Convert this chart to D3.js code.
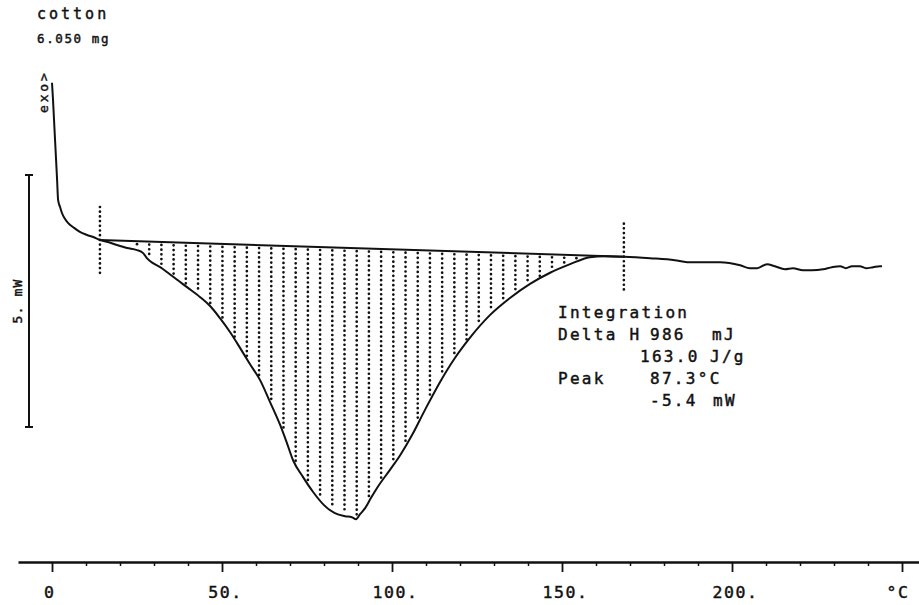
<!DOCTYPE html>
<html>
<head>
<meta charset="utf-8">
<script src="https://cdn.jsdelivr.net/npm/d3@7"></script>
<style>
body { margin: 0; background: #fff; }
svg text { font-family: "DejaVu Sans Mono", monospace; fill: #111; stroke: #111; stroke-width: 0.45px; }
</style>
</head>
<body>
<svg id="chart" width="919" height="605"></svg>
<script>
var width = 919;
var height = 605;

// trace: temperature in °C, heat flow in mW (zero at the left integration limit)
var temps = [0, 0.3, 0.6, 0.9, 1.2, 1.5, 1.8, 2.4, 2.9, 3.8, 4.7, 6.5, 8.2, 10.3, 12.1, 14.1,
  16.5, 19.1, 22.1, 25.0, 26.8, 27.9, 29.7, 31.8, 34.1, 36.8, 40.0, 43.5, 46.5, 49.4, 52.4,
  55.3, 58.2, 61.2, 64.1, 67.1, 69.1, 70.9, 73.8, 76.8, 80.0, 83.2, 86.2, 88.2, 89.4, 90.6,
  92.1, 93.8, 95.6, 99.4, 102.4, 105.9, 109.7, 114.1, 118.5, 122.9, 128.8, 134.7, 140.6,
  146.5, 152.4, 158.2, 162.6, 168.2, 175.9, 183.2, 186.8, 196.5, 202.4, 205.3, 207.4, 210.3,
  212.6, 215.6, 217.9, 220.9, 223.5, 226.8, 229.4, 231.8, 233.5, 235.3, 237.6, 239.4, 241.5,
  243.5, 244.1];
var flows = [3.12, 2.78, 2.38, 1.98, 1.59, 1.19, 0.79, 0.65, 0.54, 0.42, 0.34, 0.24, 0.16, 0.10, 0.06, 0.00,
  -0.04, -0.10, -0.16, -0.20, -0.26, -0.36, -0.46, -0.54, -0.65, -0.79, -0.95, -1.13, -1.31, -1.55, -1.83,
  -2.14, -2.46, -2.78, -3.21, -3.67, -4.03, -4.37, -4.70, -5.00, -5.26, -5.42, -5.48, -5.50, -5.54, -5.44,
  -5.32, -5.12, -4.92, -4.56, -4.27, -3.87, -3.37, -2.82, -2.34, -1.94, -1.49, -1.15, -0.87,
  -0.65, -0.48, -0.34, -0.32, -0.33, -0.36, -0.40, -0.44, -0.44, -0.50, -0.56, -0.56, -0.48,
  -0.52, -0.58, -0.56, -0.60, -0.60, -0.58, -0.54, -0.52, -0.56, -0.52, -0.52, -0.56, -0.54,
  -0.52, -0.52];

var majorTicks = [0, 50, 100, 150, 200, 250];
var majorLabels = ["0", "50.", "100.", "150.", "200.", "°C"];
var minorTicks = [10, 20, 30, 40, 60, 70, 80, 90, 110, 120, 130, 140, 160, 170, 180, 190, 210, 220, 230, 240];

var limits = [14.1, 168.2];
var hatchStart = 25.0;
var hatchStep = 3.59;
var scaleTop = 1.29;   // mW at top of the 5 mW bar
var scaleSpan = 5;

var sampleName = "cotton";
var sampleMass = "6.050 mg";
var scaleLabel = "5. mW";
var exoLabel = "exo>";
var resultTokens = [["Integration"], ["Delta H", "986", "mJ"], ["163.0", "J/g"], ["Peak", "87.3°C"], ["-5.4", "mW"]];

var svg = d3.select("#chart");
var x = d3.scaleLinear().domain([-10, 255]).range([18, 919]);
var y = d3.scaleLinear().domain([-7, 4]).range([592.8, 38.4]);
var axisY = 562;

function flowAt(t) {
  var i = d3.bisectLeft(temps, t);
  if (i <= 0) return flows[0];
  if (i >= temps.length) return flows[flows.length - 1];
  var t0 = temps[i - 1], t1 = temps[i];
  return flows[i - 1] + (flows[i] - flows[i - 1]) * (t - t0) / (t1 - t0);
}
var b0 = flowAt(limits[0]);
var b1 = flowAt(limits[1]);
function baseAt(t) {
  return b0 + (b1 - b0) * (t - limits[0]) / (limits[1] - limits[0]);
}

// x axis: long line, major and minor ticks hanging down
var minorAxis = d3.axisBottom(x).tickValues(minorTicks).tickSize(4).tickSizeOuter(0).tickFormat("");
var majorAxis = d3.axisBottom(x).tickValues(majorTicks).tickSize(10).tickSizeOuter(0).tickFormat("");
var gMinor = svg.append("g").attr("transform", `translate(0,${axisY})`).call(minorAxis);
gMinor.select(".domain").remove();
gMinor.selectAll("line").attr("stroke", "#111").attr("stroke-width", 1.5);
var gMajor = svg.append("g").attr("transform", `translate(0,${axisY})`).call(majorAxis);
gMajor.select(".domain").attr("stroke", "#111").attr("stroke-width", 2.4);
gMajor.selectAll("line").attr("stroke", "#111").attr("stroke-width", 1.8);

var pitch = 11.5, tickFont = 16.5, tickSpacing = pitch - tickFont * 0.602;
majorTicks.forEach((t, i) => {
  var lab = majorLabels[i];
  var digits = lab.replace(".", "").length;
  var x0;
  if (lab === "°C") x0 = x(t) - pitch - 4;
  else x0 = x(t) - 3 - (digits * pitch - tickSpacing) / 2;
  svg.append("text")
    .attr("x", x0)
    .attr("y", 598)
    .style("font-size", tickFont + "px")
    .style("letter-spacing", tickSpacing + "px")
    .text(lab);
});

// hatching between baseline and the peak
var hatch = [];
for (var t = hatchStart; t < limits[1]; t += hatchStep) {
  var yTop = y(baseAt(t)) + 3;
  var yBot = y(flowAt(t)) - 2.5;
  if (yBot >= yTop) hatch.push({ t: t, y1: yTop, y2: yBot });
}
var dotted = { width: 2.7, dash: "0 4.7" };
svg.append("g").selectAll("line")
  .data(hatch)
  .enter()
  .append("line")
  .attr("x1", d => x(d.t))
  .attr("x2", d => x(d.t))
  .attr("y1", d => d.y1)
  .attr("y2", d => d.y2)
  .attr("stroke", "#111")
  .attr("stroke-width", dotted.width)
  .attr("stroke-linecap", "round")
  .attr("stroke-dasharray", dotted.dash);

// integration limit markers
svg.append("g").selectAll("line")
  .data(limits)
  .enter()
  .append("line")
  .attr("x1", d => x(d))
  .attr("x2", d => x(d))
  .attr("y1", d => y(flowAt(d)) - 33)
  .attr("y2", d => y(flowAt(d)) + 33)
  .attr("stroke", "#111")
  .attr("stroke-width", dotted.width)
  .attr("stroke-linecap", "round")
  .attr("stroke-dasharray", dotted.dash);

// baseline
svg.append("line")
  .attr("x1", x(limits[0])).attr("y1", y(b0))
  .attr("x2", x(limits[1])).attr("y2", y(b1))
  .attr("stroke", "#111")
  .attr("stroke-width", 2);

// the trace
var points = temps.map((t, i) => [t, flows[i]]);
var line = d3.line()
  .x(d => x(d[0]))
  .y(d => y(d[1]))
  .curve(d3.curveMonotoneX);
svg.append("path")
  .datum(points)
  .attr("fill", "none")
  .attr("stroke", "#111")
  .attr("stroke-width", 2)
  .attr("stroke-linejoin", "round")
  .attr("d", line);

// 5 mW scale bar
var barX = 29;
svg.append("line")
  .attr("x1", barX).attr("x2", barX)
  .attr("y1", y(scaleTop)).attr("y2", y(scaleTop - scaleSpan))
  .attr("stroke", "#111").attr("stroke-width", 2);
[scaleTop, scaleTop - scaleSpan].forEach(v => {
  svg.append("line")
    .attr("x1", barX - 4).attr("x2", barX + 4)
    .attr("y1", y(v)).attr("y2", y(v))
    .attr("stroke", "#111").attr("stroke-width", 2);
});
svg.append("text")
  .attr("transform", `translate(22,${y(scaleTop - scaleSpan / 2)}) rotate(-90)`)
  .attr("text-anchor", "middle")
  .style("font-size", "13px")
  .style("letter-spacing", "1.2px")
  .text(scaleLabel);

svg.append("text")
  .attr("transform", "translate(48,113) rotate(-90)")
  .style("font-size", "13px")
  .style("letter-spacing", "2.8px")
  .text(exoLabel);

// sample header
svg.append("text")
  .attr("x", 37).attr("y", 19)
  .style("font-size", "15px")
  .style("letter-spacing", "3px")
  .text(sampleName);
svg.append("text")
  .attr("x", 37).attr("y", 43)
  .style("font-size", "12.5px")
  .style("letter-spacing", "1.6px")
  .text(sampleMass);

// integration results
var resultX = [[558], [558, 650, 712], [640, 710], [558, 650], [650, 713]];
var resultY = [318, 340, 362, 384, 406];
resultTokens.forEach((row, r) => {
  row.forEach((tok, c) => {
    svg.append("text")
      .attr("x", resultX[r][c])
      .attr("y", resultY[r])
      .style("font-size", "16px")
      .style("letter-spacing", "2.3px")
      .text(tok);
  });
});
</script>
</body>
</html>
